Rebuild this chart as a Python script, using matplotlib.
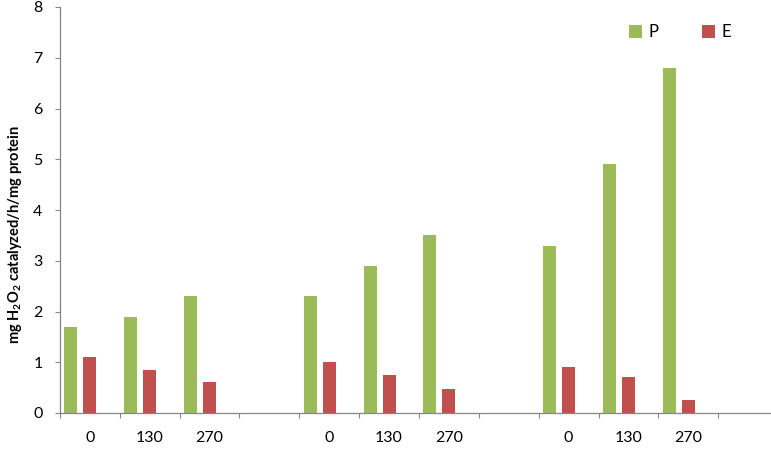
import matplotlib
matplotlib.use("Agg")
import matplotlib.pyplot as plt
from matplotlib.ticker import FixedLocator, MultipleLocator
import numpy as np

plt.rcParams['font.family'] = ['Lato', 'DejaVu Sans']

categories = ['0', '130', '270', '', '0', '130', '270', '', '0', '130', '270', '']
P_values = [1.7, 1.9, 2.3, np.nan, 2.3, 2.9, 3.5, np.nan, 3.3, 4.9, 6.8, np.nan]
E_values = [1.1, 0.84, 0.61, np.nan, 1.01, 0.75, 0.48, np.nan, 0.9, 0.7, 0.25, np.nan]
series_names = ['P', 'E']
colors = ['#9BBB59', '#C0504D']
axis_gray = '#868686'

fig = plt.figure(figsize=(7.71, 4.49), dpi=100)
ax = fig.add_axes([60/771, 1 - 413/449, (778 - 60)/771, (413 - 7)/449])

x = np.arange(len(categories))
w = 0.217
off = 19/59.8
ax.bar(x - off, P_values, width=w, color=colors[0], label=series_names[0])
ax.bar(x, E_values, width=w, color=colors[1], label=series_names[1])

ax.set_xlim(-0.5, len(categories) - 0.5)
ax.set_ylim(0, 8)
ax.yaxis.set_major_locator(MultipleLocator(1))
ax.set_xticks(x)
ax.set_xticklabels(categories)
ax.xaxis.set_minor_locator(FixedLocator(np.arange(len(categories) + 1) - 0.5))
ax.tick_params(axis='x', which='major', length=0, pad=13, labelsize=11.5)
ax.tick_params(axis='x', which='minor', length=3.6, color=axis_gray, width=0.8)
ax.tick_params(axis='y', length=3.6, color=axis_gray, width=0.8, pad=9, labelsize=11.5)

for s in ['top', 'right']:
    ax.spines[s].set_visible(False)
for s in ['left', 'bottom']:
    ax.spines[s].set_color(axis_gray)
    ax.spines[s].set_linewidth(0.9)

fig.text(15/771, 1 - 235/449, r'mg H$_\mathregular{2}$O$_\mathregular{2}$ catalyzed/h/mg protein',
         rotation=90, ha='center', va='center', fontsize=10.5, fontweight='bold')

leg = ax.legend(loc='center', bbox_to_anchor=(680/771, 1 - 32/449), bbox_transform=fig.transFigure,
                ncol=2, frameon=False, fontsize=12, handlelength=0.8, handleheight=0.8,
                handletextpad=0.4, columnspacing=2.6)

fig.savefig('out.png', dpi=100)
